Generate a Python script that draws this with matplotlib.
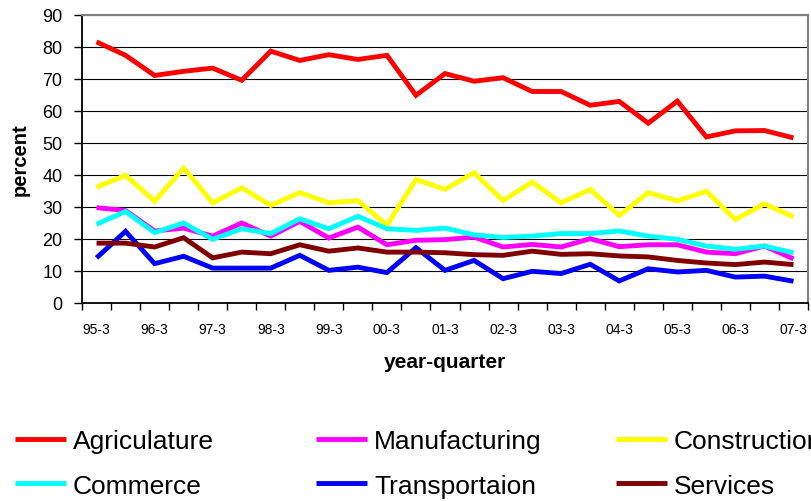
import numpy as np
import matplotlib
matplotlib.use('Agg')
import matplotlib.pyplot as plt
from matplotlib.ticker import FixedLocator

plt.rcParams['font.family'] = ['Liberation Sans', 'DejaVu Sans']

periods = ['95-3', '96-1', '96-3', '97-1', '97-3', '98-1', '98-3', '99-1', '99-3',
           '00-1', '00-3', '01-1', '01-3', '02-1', '02-3', '03-1', '03-3', '04-1',
           '04-3', '05-1', '05-3', '06-1', '06-3', '07-1', '07-3']

agriculture = [81.6, 77.4, 71.1, 72.4, 73.4, 69.6, 78.7, 75.8, 77.6, 76.1, 77.4, 64.9,
               71.7, 69.3, 70.4, 66.1, 66.1, 61.8, 63.0, 56.2, 63.1, 51.9, 53.8, 53.9, 51.6]
manufacturing = [29.8, 28.9, 22.5, 23.4, 20.9, 25.0, 20.9, 25.5, 20.3, 23.7, 18.2, 19.6,
                 19.8, 20.6, 17.5, 18.3, 17.5, 20.1, 17.6, 18.2, 18.2, 15.9, 15.4, 17.8, 13.8]
construction = [36.2, 39.9, 31.8, 42.2, 31.3, 36.0, 30.5, 34.5, 31.3, 32.0, 24.3, 38.6,
                35.5, 40.7, 32.0, 37.8, 31.3, 35.5, 27.4, 34.5, 31.9, 34.9, 26.1, 31.0, 26.9]
commerce = [24.6, 28.6, 22.0, 25.0, 19.9, 23.2, 21.7, 26.3, 23.2, 27.1, 23.2, 22.7,
            23.4, 21.3, 20.5, 20.9, 21.7, 21.7, 22.5, 20.9, 19.9, 17.8, 16.8, 17.8, 15.7]
transportation = [14.1, 22.4, 12.3, 14.6, 10.9, 10.9, 10.9, 14.9, 10.2, 11.2, 9.5, 17.3,
                  10.2, 13.3, 7.6, 9.9, 9.2, 12.1, 6.9, 10.7, 9.7, 10.2, 8.1, 8.4, 6.8]
services = [18.7, 18.7, 17.5, 20.4, 14.1, 15.9, 15.4, 18.2, 16.2, 17.2, 15.9, 15.9,
            15.7, 15.1, 14.9, 16.2, 15.2, 15.4, 14.7, 14.4, 13.3, 12.5, 12.0, 12.8, 12.0]

series = [
    ('Agriculature', agriculture, '#FF0000'),
    ('Manufacturing', manufacturing, '#FF00FF'),
    ('Construction', construction, '#FFFF00'),
    ('Commerce', commerce, '#00FFFF'),
    ('Transportaion', transportation, '#0000FF'),
    ('Services', services, '#800000'),
]

W, H = 812, 502
fig = plt.figure(figsize=(W / 100, H / 100), dpi=100)
ax = fig.add_axes([82 / W, 1 - 304 / H, (808 - 82) / W, (304 - 16) / H])

x = np.arange(len(periods))
lines = []
for name, vals, col in series:
    ln, = ax.plot(x, vals, color=col, lw=3.5, label=name, solid_joinstyle='miter',
                  solid_capstyle='butt', zorder=3)
    lines.append(ln)

ax.set_xlim(-0.5, len(periods) - 0.5)
ax.set_ylim(0, 90)
ax.set_yticks(range(0, 91, 10))
ax.yaxis.grid(True, color='black', lw=0.8)
ax.set_axisbelow(True)

ax.set_xticks(x[::2])
ax.set_xticklabels(periods[::2], fontsize=10)
ax.xaxis.set_minor_locator(FixedLocator(np.arange(-0.5, len(periods), 1)))
ax.tick_params(axis='x', which='major', length=0, pad=14)
ax.tick_params(axis='x', which='minor', length=5, width=1, direction='out', color='black')
ax.tick_params(axis='y', length=6, width=1, pad=8, labelsize=13)

for side in ('left', 'bottom'):
    ax.spines[side].set_color('black')
    ax.spines[side].set_linewidth(1.3)
for side in ('top', 'right'):
    ax.spines[side].set_color('#808080')
    ax.spines[side].set_linewidth(1.5)

ax.set_ylabel('percent', fontsize=14.5, fontweight='bold', labelpad=9)
ax.set_xlabel('year-quarter', fontsize=15, fontweight='bold', labelpad=11)

# three legend columns, two entries each
col_x = [15, 316, 616]
for k, cx in enumerate(col_x):
    fig.legend(handles=[lines[k], lines[k + 3]], loc='upper left',
               bbox_to_anchor=(cx / W, 1 - 430 / H), frameon=False, fontsize=19,
               handlelength=1.95, handletextpad=0.25, borderpad=0, borderaxespad=0,
               labelspacing=0.78)

fig.savefig('out.png', dpi=100)
